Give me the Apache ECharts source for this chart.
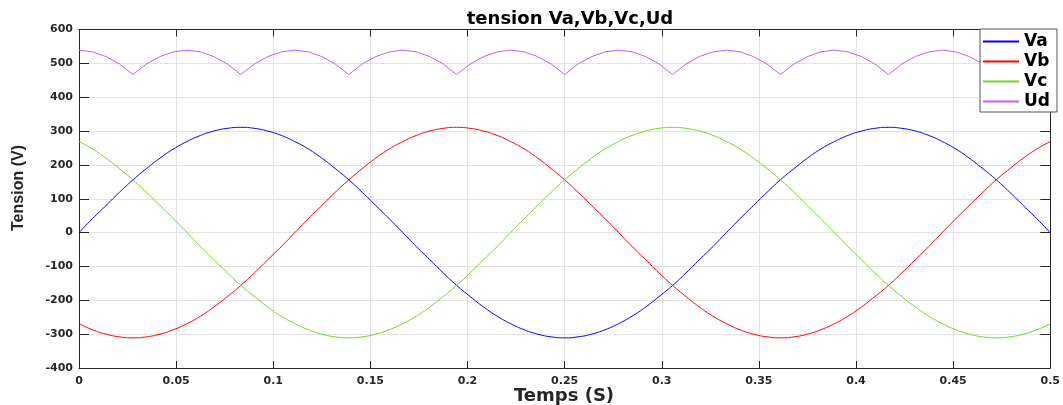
<!DOCTYPE html>
<html>
<head>
<meta charset="utf-8">
<script src="https://cdn.jsdelivr.net/npm/echarts@6/dist/echarts.min.js"></script>
<style>
html,body{margin:0;padding:0;background:#fff;}
#c{width:1063px;height:405px;}
</style>
</head>
<body>
<div id="c"></div>
<script>
var seriesNames = ['Va', 'Vb', 'Vc', 'Ud'];
var xTicks = [0, 0.05, 0.1, 0.15, 0.2, 0.25, 0.3, 0.35, 0.4, 0.45, 0.5];
var yTicks = [-400, -300, -200, -100, 0, 100, 200, 300, 400, 500, 600];

var time = [0,0.0069,0.0139,0.0208,0.0278,0.0347,0.0417,0.0486,0.0556,0.0625,0.0694,0.0764,0.0833,0.0903,0.0972,0.1042,0.1111,0.1181,0.125,0.1319,0.1389,0.1458,0.1528,0.1597,0.1667,0.1736,0.1806,0.1875,0.1944,0.2014,0.2083,0.2153,0.2222,0.2292,0.2361,0.2431,0.25,0.2569,0.2639,0.2708,0.2778,0.2847,0.2917,0.2986,0.3056,0.3125,0.3194,0.3264,0.3333,0.3403,0.3472,0.3542,0.3611,0.3681,0.375,0.3819,0.3889,0.3958,0.4028,0.4097,0.4167,0.4236,0.4306,0.4375,0.4444,0.4514,0.4583,0.4653,0.4722,0.4792,0.4861,0.4931,0.5];

var Va = [0,41,80,119,156,189,220,247,269,287,300,308,311,308,300,287,269,247,220,189,156,119,80,41,0,-41,-80,-119,-156,-189,-220,-247,-269,-287,-300,-308,-311,-308,-300,-287,-269,-247,-220,-189,-156,-119,-80,-41,
0,41,80,119,156,189,220,247,269,287,300,308,311,308,300,287,269,247,220,189,156,119,80,41,0];

var Vb = [-269,-287,-300,-308,-311,-308,-300,-287,-269,-247,-220,-189,-156,-119,-80,-41,
0,41,80,119,156,189,220,247,269,287,300,308,311,308,300,287,269,247,220,189,156,119,80,41,0,-41,-80,-119,-156,-189,-220,-247,-269,-287,-300,-308,-311,-308,-300,-287,-269,-247,-220,-189,-156,-119,-80,-41,
0,41,80,119,156,189,220,247,269];

var Vc = [269,247,220,189,156,119,80,41,0,-41,-80,-119,-156,-189,-220,-247,-269,-287,-300,-308,-311,-308,-300,-287,-269,-247,-220,-189,-156,-119,-80,-41,
0,41,80,119,156,189,220,247,269,287,300,308,311,308,300,287,269,247,220,189,156,119,80,41,0,-41,-80,-119,-156,-189,-220,-247,-269,-287,-300,-308,-311,-308,-300,-287,-269];

var Ud = [539,534,520,498,467,498,520,534,
539,534,520,498,467,498,520,534,
539,534,520,498,467,498,520,534,
539,534,520,498,467,498,520,534,
539,534,520,498,467,498,520,534,
539,534,520,498,467,498,520,534,
539,534,520,498,467,498,520,534,
539,534,520,498,467,498,520,534,
539,534,520,498,467,498,520,534,
539];

var colors = ['#0000ff', '#ff0000', '#70d81e', '#bf5fff'];

function pairs(vals) { return time.map(function (t, i) { return [t, vals[i]]; }); }

var FONT = 'DejaVu Sans';
var axisCol = '#262626';

var chart = echarts.init(document.getElementById('c'), null, {renderer: 'canvas'});
var baseX = {
  type: 'value', min: xTicks[0], max: xTicks[xTicks.length - 1], interval: 0.05,
  axisLine: {show: true, onZero: false, lineStyle: {color: axisCol, width: 1}},
  axisTick: {show: true, inside: true, length: 7, lineStyle: {color: axisCol}}
};
var baseY = {
  type: 'value', min: yTicks[0], max: yTicks[yTicks.length - 1], interval: 100,
  axisLine: {show: true, onZero: false, lineStyle: {color: axisCol, width: 1}},
  axisTick: {show: true, inside: true, length: 10, lineStyle: {color: axisCol}}
};

chart.setOption({
  animation: false,
  backgroundColor: '#fff',
  title: {
    text: 'tension Va,Vb,Vc,Ud',
    left: 565, top: 5, textAlign: 'center',
    textStyle: {fontFamily: FONT, fontWeight: 'bold', fontSize: 18, color: '#000'}
  },
  grid: {left: 79, right: 11, top: 29.5, bottom: 37, containLabel: false},
  xAxis: [
    Object.assign({}, baseX, {
      position: 'bottom',
      axisLabel: {show: true, margin: 8, fontFamily: FONT, fontWeight: 'bold', fontSize: 11, color: axisCol,
        formatter: function (v) { return String(+v.toFixed(2)); }},
      splitLine: {show: true, lineStyle: {color: '#e3e3e3', width: 1}}
    }),
    Object.assign({}, baseX, {
      position: 'top', axisLabel: {show: false}, splitLine: {show: false}
    })
  ],
  yAxis: [
    Object.assign({}, baseY, {
      position: 'left',
      axisLabel: {show: true, margin: 6, fontFamily: FONT, fontWeight: 'bold', fontSize: 11, color: axisCol},
      splitLine: {show: true, lineStyle: {color: '#e3e3e3', width: 1}}
    }),
    Object.assign({}, baseY, {
      position: 'right', axisLabel: {show: false}, splitLine: {show: false}
    })
  ],
  legend: {
    data: seriesNames,
    orient: 'vertical',
    left: 980, top: 29,
    icon: 'rect',
    itemWidth: 36, itemHeight: 2, itemGap: 3,
    padding: [4, 7, 2, 3],
    backgroundColor: '#fff',
    borderColor: '#555', borderWidth: 1, borderRadius: 0,
    textStyle: {fontFamily: FONT, fontWeight: 'bold', fontSize: 17, color: '#000'}
  },
  graphic: [
    {type: 'text', rotation: Math.PI / 2,
      style: {text: 'Tension (V)', fontFamily: 'Liberation Sans', fontWeight: 'bold', fontSize: 16, fill: axisCol, align: 'center', verticalAlign: 'top'},
      x: 11, y: 188},
    {type: 'text',
      style: {text: 'Temps (S)', fontFamily: FONT, fontWeight: 'bold', fontSize: 18, fill: axisCol, align: 'center', verticalAlign: 'middle'},
      x: 564, y: 396}
  ],
  series: [
    {name: 'Va', type: 'line', data: pairs(Va), smooth: true, showSymbol: false, symbol: 'none', lineStyle: {color: colors[0], width: 1}, itemStyle: {color: colors[0]}},
    {name: 'Vb', type: 'line', data: pairs(Vb), smooth: true, showSymbol: false, symbol: 'none', lineStyle: {color: colors[1], width: 1}, itemStyle: {color: colors[1]}},
    {name: 'Vc', type: 'line', data: pairs(Vc), smooth: true, showSymbol: false, symbol: 'none', lineStyle: {color: colors[2], width: 1}, itemStyle: {color: colors[2]}},
    {name: 'Ud', type: 'line', data: pairs(Ud), smooth: false, showSymbol: false, symbol: 'none', lineStyle: {color: colors[3], width: 1}, itemStyle: {color: colors[3]}}
  ]
});
</script>
</body>
</html>
